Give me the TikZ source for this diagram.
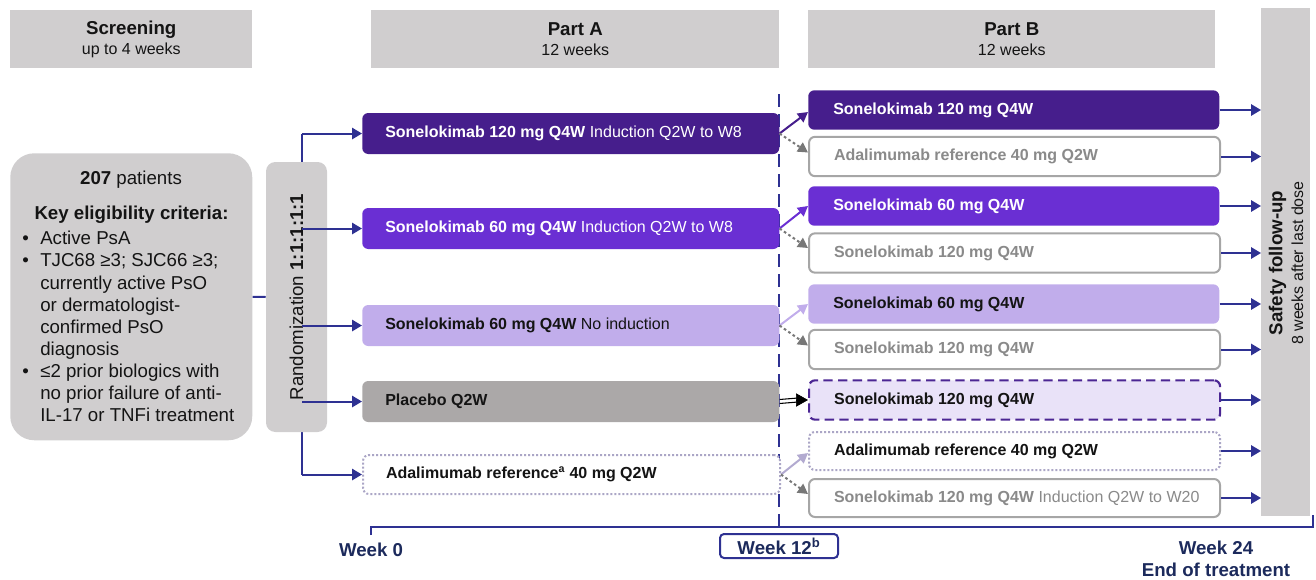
\documentclass[tikz,border=0pt]{standalone}
\usepackage{fontspec}
\setmainfont{Liberation Sans}
\usetikzlibrary{arrows.meta,calc}
\definecolor{dpurple}{HTML}{461E8C}
\definecolor{mpurple}{HTML}{6A2FD3}
\definecolor{lpurple}{HTML}{C1ADEB}
\definecolor{vlpurple}{HTML}{E9E2F8}
\definecolor{dashpurple}{HTML}{4B2693}
\definecolor{plgray}{HTML}{ABA8A8}
\definecolor{hdrgray}{HTML}{D0CECF}
\definecolor{navy}{HTML}{2E3192}
\definecolor{weekblue}{HTML}{1C2A5C}
\definecolor{bordgray}{HTML}{A6A6A6}
\definecolor{txtgray}{HTML}{8A8A8A}
\definecolor{lavdot}{HTML}{ABA6C6}
\definecolor{lavarrow}{HTML}{B2AAD0}
\definecolor{dotarrow}{HTML}{777777}
\definecolor{darktext}{HTML}{141414}
\newcommand\boxtxtA[1]{\makebox[278.25pt][l]{#1}}
\newcommand\boxtxtB[1]{\makebox[270.75pt][l]{#1}}
\begin{document}
\begin{tikzpicture}[x=0.75pt,y=-0.75pt,
  big/.style={font=\fontsize{14}{16.6}\selectfont},
  hdr/.style={fill=hdrgray, minimum height=43.5pt, inner sep=0pt, anchor=north west, align=center, text=darktext, font=\fontsize{12}{15}\selectfont},
  abox/.style={rounded corners=4.5pt, minimum height=30.75pt, inner xsep=17.25pt, inner ysep=0pt, anchor=west, font=\fontsize{12}{14}\selectfont},
  bbox/.style={rounded corners=4.5pt, minimum height=29.5pt, inner xsep=18.75pt, inner ysep=0pt, anchor=west, font=\fontsize{12}{14}\selectfont},
  whitebox/.style={fill=white, draw=bordgray, line width=1.5pt, text=txtgray},
  dotbox/.style={fill=white, draw=lavdot, line width=1.5pt, dash pattern=on 1.5pt off 1.5pt, text=darktext},
  arr/.style={navy, line width=1.5pt, -{Triangle[length=7.5pt,width=8.5pt]}},
  solidarr/.style={line width=1.5pt, -{Triangle[length=7.5pt,width=8pt]}},
  dotarr/.style={dotarrow, line width=1.5pt, dash pattern=on 2pt off 2pt, -{Triangle[length=7.5pt,width=8pt]}},
  weeklbl/.style={text=weekblue, font=\fontsize{14}{16.5}\selectfont\bfseries, align=center, inner sep=0pt}
]
\useasboundingbox (0,0) rectangle (1316,579);

% headers
\node[hdr, minimum width=181.5pt] (hscr) at (10,10) {{\fontsize{14}{15}\selectfont\bfseries Screening}\\[0pt]up to 4 weeks};
\node[hdr, minimum width=306pt] (hpa) at (371,10) {{\fontsize{14}{15}\selectfont\bfseries Part A}\\[0pt]12 weeks};
\node[hdr, minimum width=305.25pt] (hpb) at (808,10) {{\fontsize{14}{15}\selectfont\bfseries Part B}\\[0pt]12 weeks};

% safety bar
\node[fill=hdrgray, minimum width=36.75pt, minimum height=381pt, inner sep=0pt, anchor=north west] (safety) at (1261,8) {};
\node[rotate=90, align=center, inner sep=0pt, text=darktext, font=\fontsize{12}{15.5}\selectfont] (safetytxt) at (1286,263) {{\fontsize{14}{15}\selectfont\bfseries Safety follow-up}\\8 weeks after last dose};

% timeline
\coordinate (t0) at (371,527);
\coordinate (t0b) at (371,535);
\coordinate (t24) at (1313,527);
\coordinate (t24u) at (1313,515);
\coordinate (w12top) at (779,94);
\draw[navy, line width=2pt, dash pattern=on 10pt off 5pt] (w12top) -- (w12top |- t0);
\draw[navy, line width=2pt] (t0b) -- (t0) -- (t24) -- (t24u);

% patients box
\node[fill=hdrgray, rounded corners=18pt, minimum width=181.5pt, minimum height=215.25pt, inner sep=0pt, anchor=north west] (pat) at (10,153) {};
\node[big, text=darktext, inner sep=0pt] (n207) at (131,180) {\textbf{207} patients};
\node[big, text=darktext, inner sep=0pt] (keyel) at (131.5,215) {\textbf{Key eligibility criteria:}};
\node[big, text=darktext, inner sep=0pt, anchor=north west, align=left] (crit) at (22,231) {%
\makebox[13.5pt][l]{•}Active PsA\\
\makebox[13.5pt][l]{•}TJC68 ≥3; SJC66 ≥3;\\
\hspace*{13.5pt}currently active PsO\\
\hspace*{13.5pt}or dermatologist-\\
\hspace*{13.5pt}confirmed PsO\\
\hspace*{13.5pt}diagnosis\\
\makebox[13.5pt][l]{•}≤2 prior biologics with\\
\hspace*{13.5pt}no prior failure of anti-\\
\hspace*{13.5pt}IL-17 or TNFi treatment};

% spine
\coordinate (sp) at (302,297);

% Part A boxes
\node[abox, fill=dpurple, text=white] (a1) at (362,133.5) {\boxtxtA{\textbf{Sonelokimab 120 mg Q4W} Induction Q2W to W8}};
\node[abox, fill=mpurple, text=white] (a2) at (362,228.5) {\boxtxtA{\textbf{Sonelokimab 60 mg Q4W} Induction Q2W to W8}};
\node[abox, fill=lpurple, text=darktext] (a3) at (362,325.5) {\boxtxtA{\textbf{Sonelokimab 60 mg Q4W} No induction}};
\node[abox, fill=plgray, text=darktext] (a4) at (362,401.5) {\boxtxtA{\textbf{Placebo Q2W}}};
\node[abox, dotbox, minimum height=29.25pt] (a5) at (362,474.5) {\boxtxtA{\textbf{Adalimumab reference\textsuperscript{a} 40 mg Q2W}}};

% Part B boxes
\node[bbox, fill=dpurple, text=white] (b1) at (808,110) {\boxtxtB{\textbf{Sonelokimab 120 mg Q4W}}};
\node[bbox, whitebox] (b2) at (808,156.5) {\boxtxtB{\textbf{Adalimumab reference 40 mg Q2W}}};
\node[bbox, fill=mpurple, text=white] (b3) at (808,206) {\boxtxtB{\textbf{Sonelokimab 60 mg Q4W}}};
\node[bbox, whitebox] (b4) at (808,253) {\boxtxtB{\textbf{Sonelokimab 120 mg Q4W}}};
\node[bbox, fill=lpurple, text=darktext] (b5) at (808,304) {\boxtxtB{\textbf{Sonelokimab 60 mg Q4W}}};
\node[bbox, whitebox] (b6) at (808,349.5) {\boxtxtB{\textbf{Sonelokimab 120 mg Q4W}}};
\node[bbox, fill=vlpurple, draw=dashpurple, line width=1.6pt, dash pattern=on 7pt off 4pt, text=darktext] (b7) at (808,400) {\boxtxtB{\textbf{Sonelokimab 120 mg Q4W}}};
\node[bbox, dotbox, minimum height=28.5pt] (b8) at (808,451) {\boxtxtB{\textbf{Adalimumab reference 40 mg Q2W}}};
\node[bbox, whitebox, minimum height=28.5pt] (b9) at (808,498) {\boxtxtB{\textbf{Sonelokimab 120 mg Q4W} Induction Q2W to W20}};

% randomization
\draw[navy, line width=1.5pt] (sp |- a1.west) -- (sp |- a5.west);
\node[fill=hdrgray, rounded corners=7pt, minimum width=45.75pt, minimum height=202.5pt, inner sep=0pt] (rand) at (296.5,297) {};
\node[rotate=90, big, text=darktext, inner sep=0pt] (randtxt) at (rand.center) {Randomization \textbf{1:1:1:1:1}};
\draw[navy, line width=1.5pt] (pat.east) -- (rand.west);
\foreach \a in {a1,a2,a3,a4,a5}{
  \draw[arr] (sp |- \a.west) -- (\a.west);
}

% Part A -> Part B
\draw[solidarr, dpurple] (a1.east) -- ($(b1.west)+(0,2)$);
\draw[dotarr] (a1.east) -- ($(b2.west)+(0,-4)$);
\draw[solidarr, mpurple] (a2.east) -- (b3.west);
\draw[dotarr] (a2.east) -- ($(b4.west)+(0,-5)$);
\draw[solidarr, lpurple] (a3.east) -- (b5.west);
\draw[dotarr] (a3.east) -- ($(b6.west)+(0,-4)$);
\coordinate (pltip) at ($(b7.west)+(-11,0)$);
\draw[black, line width=0.8pt] ($(a4.east)+(0,-2)$) -- ($(pltip)+(1,-2)$);
\draw[black, line width=0.8pt] ($(a4.east)+(0,2)$) -- ($(pltip)+(1,2)$);
\draw[black, line width=0.5pt, -{Triangle[length=9pt,width=10pt]}] (pltip) -- (b7.west);
\draw[solidarr, lavarrow] (a5.east) -- ($(b8.west)+(0,2)$);
\draw[dotarr] (a5.east) -- ($(b9.west)+(0,-4)$);

% Part B -> safety follow-up
\foreach \b in {b1,b2,b3,b4,b5,b6,b7,b8,b9}{
  \draw[arr] (\b.east) -- (\b.east -| safety.west);
}

% week labels
\node[weeklbl] (w0) at (371,550) {Week 0};
\node[weeklbl, draw=navy, line width=1.5pt, rounded corners=3pt, minimum width=88.5pt, minimum height=18pt, fill=white] (w12) at (779,546) {Week 12\textsuperscript{b}};
\node[weeklbl] (w24) at (1216,559) {Week 24\\End of treatment};
\end{tikzpicture}
\end{document}
